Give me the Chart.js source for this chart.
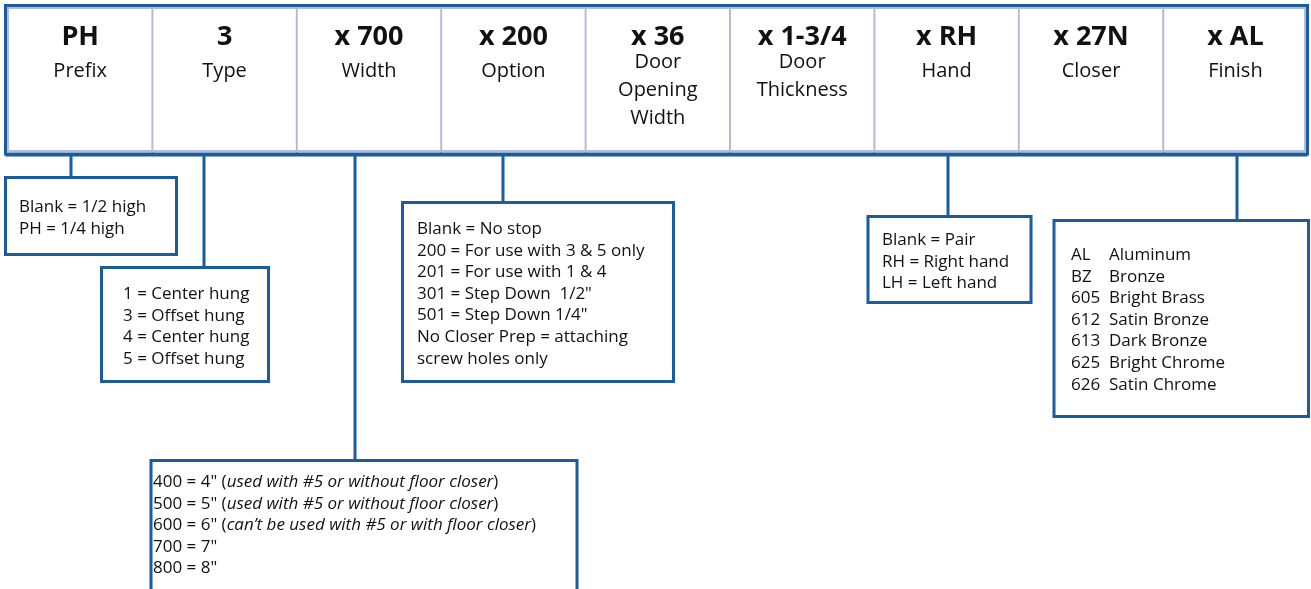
<!DOCTYPE html>
<html>
<head>
<meta charset="utf-8">
<script src="https://cdn.jsdelivr.net/npm/chart.js@4/dist/chart.umd.min.js"></script>
<style>
  html, body { margin: 0; padding: 0; background: #fff; }
  #wrap { width: 1311px; height: 589px; }
</style>
</head>
<body>
<div id="wrap"><canvas id="chart" width="1311" height="589"></canvas></div>
<script>
var ctx = document.getElementById("chart").getContext("2d");

// header fields of the order code
var codes = ["PH", "3", "x 700", "x 200", "x 36", "x 1-3/4", "x RH", "x 27N", "x AL"];
var fieldLabels = [
  ["Prefix"], ["Type"], ["Width"], ["Option"],
  ["Door", "Opening", "Width"], ["Door", "Thickness"],
  ["Hand"], ["Closer"], ["Finish"]
];

// option lists hanging under some fields
var prefixOptions = ["Blank = 1/2 high", "PH = 1/4 high"];
var typeOptions = ["1 = Center hung", "3 = Offset hung", "4 = Center hung", "5 = Offset hung"];
var optionOptions = [
  "Blank = No stop",
  "200 = For use with 3 & 5 only",
  "201 = For use with 1 & 4",
  "301 = Step Down  1/2\"",
  "501 = Step Down 1/4\"",
  "No Closer Prep = attaching",
  "screw holes only"
];
var handOptions = ["Blank = Pair", "RH = Right hand", "LH = Left hand"];
var finishCodes = ["AL", "BZ", "605", "612", "613", "625", "626"];
var finishNames = ["Aluminum", "Bronze", "Bright Brass", "Satin Bronze", "Dark Bronze", "Bright Chrome", "Satin Chrome"];
// [plain, italic, plain]
var widthOptions = [
  ["400 = 4\" (", "used with #5 or without floor closer", ")"],
  ["500 = 5\" (", "used with #5 or without floor closer", ")"],
  ["600 = 6\" (", "can\u2019t be used with #5 or with floor closer", ")"],
  ["700 = 7\"", "", ""],
  ["800 = 8\"", "", ""]
];

// layout, in diagram units (x 0..1311, y 0..589)
var dark = "#1b5c9e";
var light = "#b3bbdc";
var font = "'Open Sans', sans-serif";
var header = { x0: 5.5, x1: 1307.5, y0: 5.5, y1: 154, colX0: 8, colW: 144.4 };
var boxes = [
  { field: 0, lineX: 71, box: [5.5, 177.5, 176.5, 254.5], textX: 19, base: 212, items: prefixOptions },
  { field: 1, lineX: 204, box: [101.5, 267.5, 268.5, 381.5], textX: 123, base: 299, items: typeOptions },
  { field: 2, lineX: 355, box: [151, 460.5, 577, 620], textX: 153, base: 487, items: widthOptions, mixed: true },
  { field: 3, lineX: 503, box: [402.5, 202.5, 673.5, 381.5], textX: 417, base: 234, items: optionOptions },
  { field: 6, lineX: 948, box: [868, 216.5, 1031, 302.5], textX: 882, base: 245, items: handOptions },
  { field: 8, lineX: 1237, box: [1054, 220.5, 1308.5, 416.5], textX: 1071, base: 260, items: finishCodes, names: finishNames, namesX: 1109 }
];
var lineStep = 21.6;
var boxFont = "17px ";

var orderCode = {
  id: "orderCode",
  afterDraw: function (chart) {
    var c = chart.ctx;
    var sx = chart.scales.x, sy = chart.scales.y;
    var X = function (v) { return sx.getPixelForValue(v); };
    var Y = function (v) { return sy.getPixelForValue(v); };
    c.save();

    // header cells
    c.strokeStyle = light;
    c.lineWidth = 2;
    for (var i = 1; i < codes.length; i++) {
      var dx = header.colX0 + header.colW * i;
      c.beginPath();
      c.moveTo(X(dx), Y(header.y0));
      c.lineTo(X(dx), Y(header.y1));
      c.stroke();
    }
    c.strokeRect(X(header.x0 + 2.5), Y(header.y0 + 2.5), X(header.x1 - 2.5) - X(header.x0 + 2.5), Y(header.y1 - 3) - Y(header.y0 + 2.5));
    c.strokeStyle = dark;
    c.lineWidth = 3;
    c.strokeRect(X(header.x0), Y(header.y0), X(header.x1) - X(header.x0), Y(header.y1) - Y(header.y0));
    c.beginPath();
    c.moveTo(X(header.x0), Y(header.y1 + 1));
    c.lineTo(X(header.x1), Y(header.y1 + 1));
    c.stroke();

    c.fillStyle = "#111";
    c.textAlign = "center";
    c.textBaseline = "alphabetic";
    codes.forEach(function (code, i) {
      var cx = X(header.colX0 + header.colW * (i + 0.5));
      c.font = "bold 27px " + font;
      c.fillText(code, cx, Y(45));
      c.font = "20px " + font;
      var lbl = fieldLabels[i];
      var b0 = lbl.length > 1 ? 68 : 77;
      lbl.forEach(function (t, j) {
        c.fillText(t, cx, Y(b0 + j * 28));
      });
    });

    // connectors and option boxes
    c.textAlign = "left";
    boxes.forEach(function (b) {
      c.strokeStyle = dark;
      c.lineWidth = 3;
      c.beginPath();
      c.moveTo(X(b.lineX), Y(header.y1 + 2));
      c.lineTo(X(b.lineX), Y(b.box[1]));
      c.stroke();
      c.strokeRect(X(b.box[0]), Y(b.box[1]), X(b.box[2]) - X(b.box[0]), Y(b.box[3]) - Y(b.box[1]));

      c.fillStyle = "#111";
      b.items.forEach(function (it, j) {
        var y = Y(b.base + j * lineStep);
        if (b.mixed) {
          var x = X(b.textX);
          c.font = boxFont + font;
          c.fillText(it[0], x, y);
          x += c.measureText(it[0]).width;
          c.font = "italic " + boxFont + font;
          c.fillText(it[1], x, y);
          x += c.measureText(it[1]).width;
          c.font = boxFont + font;
          c.fillText(it[2], x, y);
        } else {
          c.font = boxFont + font;
          c.fillText(it, X(b.textX), y);
          if (b.names) c.fillText(b.names[j], X(b.namesX), y);
        }
      });
    });
    c.restore();
  }
};

var chart = new Chart(ctx, {
  type: "scatter",
  data: { datasets: [] },
  options: {
    responsive: false,
    animation: false,
    layout: { padding: 0 },
    plugins: { legend: { display: false }, tooltip: { enabled: false } },
    scales: {
      x: { type: "linear", min: 0, max: 1311, display: false },
      y: { type: "linear", min: 0, max: 589, reverse: true, display: false }
    }
  },
  plugins: [orderCode]
});
</script>
</body>
</html>
